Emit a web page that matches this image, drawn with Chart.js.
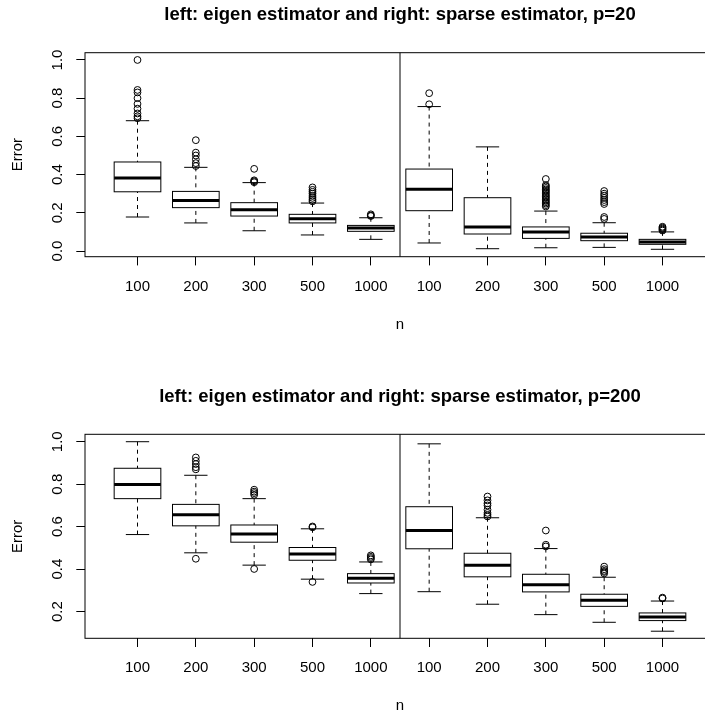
<!DOCTYPE html>
<html lang="en">
<head>
  <meta charset="UTF-8" />
  <title>Eigen vs sparse estimator error</title>
  <script src="https://cdn.jsdelivr.net/npm/chart.js"></script>
  <style>
    html, body { margin: 0; padding: 0; background: #fff; overflow: hidden; }
    .panel { position: absolute; left: 0; }
  </style>
</head>
<body>
  <div class="panel" style="top:0"><canvas id="topChart" width="725" height="358"></canvas></div>
  <div class="panel" style="top:358px"><canvas id="bottomChart" width="725" height="358"></canvas></div>

  <script>
    // x categories: left 5 = eigen estimator, right 5 = sparse estimator
    const nLabels = ['100', '200', '300', '500', '1000', '100', '200', '300', '500', '1000'];
    const positions = [1, 2, 3, 4, 5, 6, 7, 8, 9, 10];

    // p = 20
    const p20Low  = [0.178, 0.147, 0.106, 0.084, 0.061, 0.042, 0.012, 0.017, 0.019, 0.009];
    const p20Q1   = [0.310, 0.227, 0.183, 0.147, 0.103, 0.211, 0.089, 0.066, 0.054, 0.035];
    const p20Med  = [0.382, 0.265, 0.216, 0.169, 0.120, 0.323, 0.126, 0.100, 0.073, 0.047];
    const p20Q3   = [0.466, 0.312, 0.253, 0.192, 0.134, 0.429, 0.279, 0.126, 0.093, 0.061];
    const p20High = [0.682, 0.438, 0.358, 0.251, 0.174, 0.756, 0.545, 0.209, 0.148, 0.100];
    const p20Out = [
      [1.0, 0.843, 0.83, 0.80, 0.77, 0.745, 0.72, 0.705, 0.695],
      [0.58, 0.515, 0.50, 0.48, 0.46, 0.445],
      [0.43, 0.37, 0.365, 0.36],
      [0.333, 0.32, 0.31, 0.30, 0.288, 0.278, 0.268, 0.26],
      [0.192, 0.186, 0.183],
      [0.826, 0.768],
      [],
      [0.377, 0.345, 0.338, 0.33, 0.322, 0.315, 0.308, 0.30, 0.292, 0.285, 0.278, 0.27, 0.262, 0.255, 0.248, 0.24, 0.233],
      [0.314, 0.30, 0.29, 0.278, 0.267, 0.256, 0.246, 0.178, 0.168],
      [0.127, 0.122, 0.117, 0.112, 0.107]
    ];
    const p20Ticks = [0, 0.2, 0.4, 0.6, 0.8, 1.0];
    const p20TickLabels = ['0.0', '0.2', '0.4', '0.6', '0.8', '1.0'];

    // p = 200
    const p200Low  = [0.563, 0.477, 0.419, 0.353, 0.285, 0.294, 0.235, 0.186, 0.150, 0.108];
    const p200Q1   = [0.732, 0.604, 0.527, 0.442, 0.335, 0.496, 0.364, 0.293, 0.225, 0.158];
    const p200Med  = [0.799, 0.656, 0.565, 0.472, 0.357, 0.582, 0.419, 0.327, 0.254, 0.175];
    const p200Q3   = [0.875, 0.705, 0.608, 0.502, 0.379, 0.694, 0.475, 0.376, 0.282, 0.194];
    const p200High = [1.000, 0.842, 0.732, 0.590, 0.434, 0.990, 0.642, 0.497, 0.362, 0.250];
    const p200Out = [
      [],
      [0.926, 0.91, 0.895, 0.88, 0.87, 0.449],
      [0.774, 0.765, 0.758, 0.75, 0.401],
      [0.601, 0.597, 0.34],
      [0.465, 0.458, 0.452, 0.446],
      [],
      [0.742, 0.724, 0.71, 0.70, 0.68, 0.665, 0.656, 0.648],
      [0.582, 0.515, 0.507],
      [0.412, 0.40, 0.392, 0.387, 0.38],
      [0.266, 0.262]
    ];
    const p200Ticks = [0.2, 0.4, 0.6, 0.8, 1.0];
    const p200TickLabels = ['0.2', '0.4', '0.6', '0.8', '1.0'];

    Chart.defaults.font.family = "'Liberation Sans', Arial, sans-serif";
    Chart.defaults.color = '#000';

    // draws the R-style boxes under the outlier points
    const boxPlugin = {
      id: 'boxes',
      beforeDatasetsDraw(chart, args, opts) {
        const { ctx } = chart;
        const xs = chart.scales.x, ys = chart.scales.y;
        ctx.save();
        ctx.strokeStyle = '#000';
        opts.med.forEach((m, i) => {
          const pos = i + 1;
          const cx = xs.getPixelForValue(pos);
          const half = xs.getPixelForValue(pos + 0.4) - cx;
          const cap = half / 2;
          const yl = ys.getPixelForValue(opts.low[i]);
          const y1 = ys.getPixelForValue(opts.q1[i]);
          const ym = ys.getPixelForValue(m);
          const y3 = ys.getPixelForValue(opts.q3[i]);
          const yh = ys.getPixelForValue(opts.high[i]);

          ctx.lineWidth = 1;
          ctx.setLineDash([4, 4]);
          ctx.beginPath();
          ctx.moveTo(cx, yh); ctx.lineTo(cx, y3);
          ctx.moveTo(cx, yl); ctx.lineTo(cx, y1);
          ctx.stroke();
          ctx.setLineDash([]);

          ctx.beginPath();
          ctx.moveTo(cx - cap, yh); ctx.lineTo(cx + cap, yh);
          ctx.moveTo(cx - cap, yl); ctx.lineTo(cx + cap, yl);
          ctx.stroke();

          ctx.strokeRect(cx - half, y3, 2 * half, y1 - y3);

          ctx.lineWidth = 3;
          ctx.beginPath();
          ctx.moveTo(cx - half, ym); ctx.lineTo(cx + half, ym);
          ctx.stroke();
        });
        ctx.restore();
      },
      afterDraw(chart) {
        const { ctx, chartArea: a } = chart;
        const xs = chart.scales.x;
        ctx.save();
        ctx.strokeStyle = '#000';
        ctx.lineWidth = 1;
        ctx.strokeRect(a.left, a.top, a.right - a.left, a.bottom - a.top);
        const xd = xs.getPixelForValue(5.5);
        ctx.beginPath();
        ctx.moveTo(xd, a.top); ctx.lineTo(xd, a.bottom);
        ctx.stroke();
        ctx.restore();
      }
    };

    function makePanel(id, title, low, q1, med, q3, high, outliers, yMin, yMax, yTicks, yTickLabels, lay) {
      const points = [];
      outliers.forEach((vals, i) => vals.forEach(v => points.push({ x: positions[i], y: v })));
      const tickFont = { size: 15 };
      return new Chart(document.getElementById(id), {
        type: 'scatter',
        data: {
          datasets: [{
            data: points,
            pointStyle: 'circle',
            pointRadius: 3.4,
            pointBorderWidth: 1,
            pointBorderColor: '#000',
            pointBackgroundColor: 'rgba(0,0,0,0)'
          }]
        },
        options: {
          responsive: false,
          animation: false,
          layout: { padding: { left: 0, right: 10, top: 0, bottom: 0 } },
          plugins: {
            legend: { display: false },
            tooltip: { enabled: false },
            title: {
              display: true,
              text: title,
              fullSize: false,
              color: '#000',
              font: { size: 18.5, weight: 'bold' },
              padding: { top: lay.titleTop, bottom: lay.titleBottom }
            },
            boxes: { low, q1, med, q3, high }
          },
          scales: {
            x: {
              type: 'linear',
              min: 0.1,
              max: 10.9,
              afterBuildTicks: s => { s.ticks = positions.map(v => ({ value: v })); },
              afterFit: s => { s.height = lay.xHeight; },
              ticks: {
                autoSkip: false,
                maxRotation: 0,
                padding: 12.3,
                font: tickFont,
                callback: v => nLabels[v - 1]
              },
              grid: { display: true, drawOnChartArea: false, drawTicks: true, tickLength: 8.7, color: '#000' },
              border: { display: false },
              title: { display: true, text: 'n', font: tickFont, padding: { top: 0, bottom: lay.nBottom } }
            },
            y: {
              min: yMin,
              max: yMax,
              afterBuildTicks: s => { s.ticks = yTicks.map(v => ({ value: v })); },
              afterFit: s => { s.width = 85; },
              ticks: {
                minRotation: 90,
                maxRotation: 90,
                crossAlign: 'center',
                padding: 8.4,
                font: tickFont,
                callback: (v, i) => yTickLabels[i]
              },
              grid: { display: true, drawOnChartArea: false, drawTicks: true, tickLength: 8.7, color: '#000' },
              border: { display: false },
              title: { display: true, text: 'Error', font: tickFont, padding: { top: 9.3, bottom: 0 } }
            }
          }
        },
        plugins: [boxPlugin]
      });
    }

    makePanel('topChart', 'left: eigen estimator and right: sparse estimator, p=20',
      p20Low, p20Q1, p20Med, p20Q3, p20High, p20Out, -0.0298, 1.038, p20Ticks, p20TickLabels,
      { titleTop: 3.4, titleBottom: 27.1, xHeight: 101.3, nBottom: 24.3 });

    makePanel('bottomChart', 'left: eigen estimator and right: sparse estimator, p=200',
      p200Low, p200Q1, p200Med, p200Q3, p200High, p200Out, 0.0746, 1.0349, p200Ticks, p200TickLabels,
      { titleTop: 28.1, titleBottom: 26, xHeight: 77.7, nBottom: 1 });
  </script>
</body>
</html>
